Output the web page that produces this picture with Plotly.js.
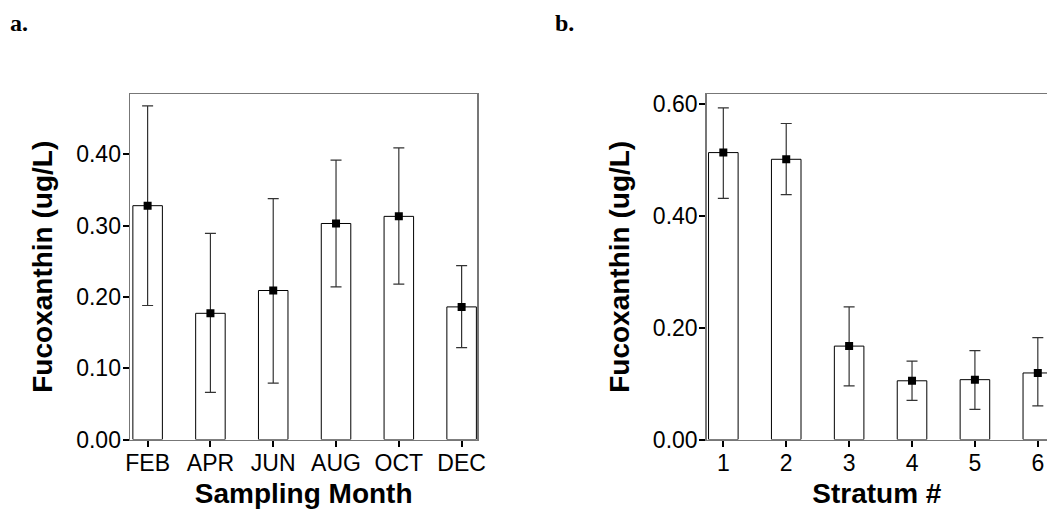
<!DOCTYPE html>
<html>
<head>
<meta charset="utf-8">
<script src="https://cdn.plot.ly/plotly-3.0.1.min.js"></script>
<style>
html,body{margin:0;padding:0;background:#fff;overflow:hidden;}
#chart{width:1047px;height:511px;}
</style>
</head>
<body>
<div id="chart"></div>
<script>
// Panel a: by sampling month
const months = ["FEB", "APR", "JUN", "AUG", "OCT", "DEC"];
const monthMean = [0.328, 0.177, 0.209, 0.303, 0.313, 0.186];
const monthUpper = [0.468, 0.289, 0.338, 0.392, 0.409, 0.244];
const monthLower = [0.188, 0.066, 0.079, 0.214, 0.218, 0.129];

// Panel b: by stratum
const strata = ["1", "2", "3", "4", "5", "6"];
const strataMean = [0.513, 0.501, 0.167, 0.105, 0.107, 0.119];
const strataUpper = [0.593, 0.565, 0.237, 0.140, 0.159, 0.182];
const strataLower = [0.431, 0.438, 0.096, 0.070, 0.054, 0.060];

const yTitle = "Fucoxanthin (ug/L)";

function barTrace(x, y, xa, ya) {
  return {
    type: "bar", x: x, y: y, xaxis: xa, yaxis: ya,
    marker: {color: "#ffffff", line: {color: "#000000", width: 1}},
    hoverinfo: "x+y", showlegend: false
  };
}
function pointTrace(x, y, up, lo, xa, ya) {
  return {
    type: "scatter", mode: "markers", x: x, y: y, xaxis: xa, yaxis: ya,
    marker: {symbol: "square", size: 8, color: "#000000"},
    error_y: {
      type: "data", symmetric: false,
      array: up.map((u, i) => u - y[i]),
      arrayminus: lo.map((l, i) => y[i] - l),
      color: "#333333", thickness: 1.2, width: 5.5
    },
    cliponaxis: true,
    showlegend: false
  };
}

const tickFont = {family: "Liberation Sans, Arial, sans-serif", size: 23, color: "#000"};
const titleFont = {family: "Liberation Sans, Arial, sans-serif", size: 28, color: "#000", weight: "bold"};

const commonX = {
  type: "category", showline: true, mirror: true, linecolor: "#777", linewidth: 1.5,
  ticks: "outside", ticklen: 6, tickwidth: 2, tickcolor: "#000",
  showgrid: false, zeroline: false, tickfont: tickFont, automargin: false,
  ticklabelstandoff: -4
};
const commonY = {
  showline: true, linecolor: "#777", linewidth: 1.5,
  ticks: "outside", ticklen: 6, tickwidth: 2, tickcolor: "#000",
  showgrid: false, zeroline: false, tickfont: tickFont, tickformat: ".2f",
  automargin: false, ticklabelstandoff: -3
};

const data = [
  barTrace(months, monthMean, "x", "y"),
  pointTrace(months, monthMean, monthUpper, monthLower, "x", "y"),
  barTrace(strata, strataMean, "x2", "y2"),
  pointTrace(strata, strataMean, strataUpper, strataLower, "x2", "y2")
];

const layout = {
  width: 1047, height: 511,
  margin: {l: 0, r: 0, t: 0, b: 0},
  paper_bgcolor: "#fff", plot_bgcolor: "#fff",
  bargap: 0.53,
  showlegend: false,
  xaxis: Object.assign({}, commonX, {
    domain: [0.1242, 0.4559], anchor: "y", range: [-0.28, 5.25],
    title: {text: "Sampling Month", font: titleFont, standoff: 9}
  }),
  yaxis: Object.assign({}, commonY, {
    domain: [0.1399, 0.816], anchor: "x", range: [0, 0.4846], dtick: 0.1, tick0: 0,
    mirror: true,
    title: {text: yTitle, font: titleFont, standoff: 15}
  }),
  xaxis2: Object.assign({}, commonX, {
    domain: [0.675, 1], anchor: "y2", range: [-0.264, 5.146],
    title: {text: "Stratum #", font: titleFont, standoff: 9}
  }),
  yaxis2: Object.assign({}, commonY, {
    domain: [0.1399, 0.816], anchor: "x2", range: [0, 0.6177], dtick: 0.2, tick0: 0,
    mirror: false,
    title: {text: yTitle, font: titleFont, standoff: 15}
  }),
  annotations: [
    {text: "<b>a.</b>", xref: "paper", yref: "paper", x: 8 / 1047, y: 1 - 8 / 511,
     xanchor: "left", yanchor: "top", showarrow: false,
     font: {family: "Liberation Serif, Times New Roman, serif", size: 24, color: "#000"}},
    {text: "<b>b.</b>", xref: "paper", yref: "paper", x: 553 / 1047, y: 1 - 8 / 511,
     xanchor: "left", yanchor: "top", showarrow: false,
     font: {family: "Liberation Serif, Times New Roman, serif", size: 24, color: "#000"}}
  ]
};

Plotly.newPlot("chart", data, layout, {displayModeBar: false, staticPlot: true});
</script>
</body>
</html>
